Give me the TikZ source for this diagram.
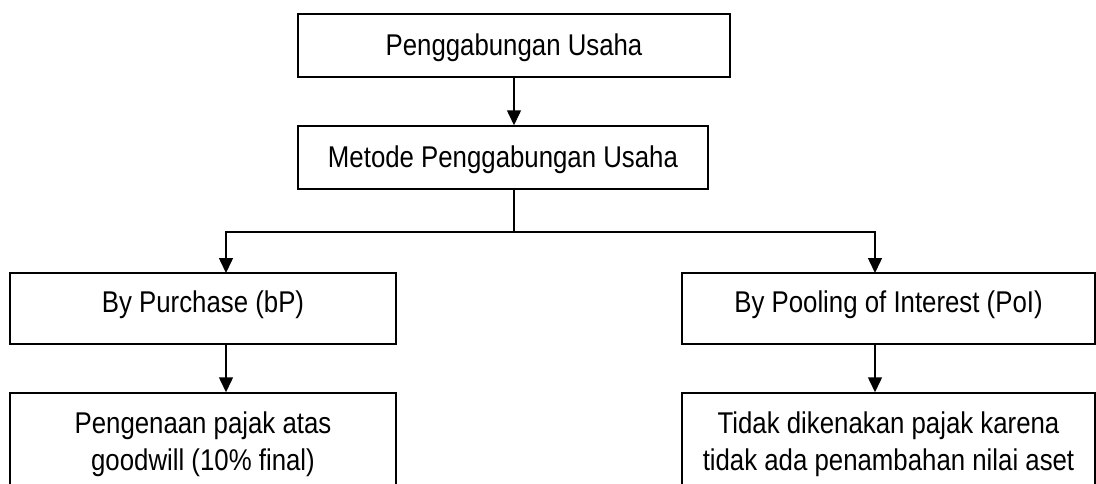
\documentclass[tikz,border=0pt]{standalone}
\usepackage{fontspec}
\setmainfont{Liberation Sans}[FakeStretch=0.86]
\usetikzlibrary{positioning}
\usetikzlibrary{arrows.meta}
\tikzset{
    box/.style = {rectangle, draw=black, line width=1.5pt, inner sep=0pt, align=center, text height=21.5pt},
    boxt/.style = {box, minimum height=63pt, text depth=2.5pt},
    boxm/.style = {box, minimum height=71pt, text depth=14pt},
    boxb/.style = {box, minimum height=119pt, text height=35pt, text depth=0pt},
    edgen/.style = {-{Triangle[width=14pt,length=15pt]}, line width=1.5pt},
    linen/.style = {line width=1.5pt}
}

\begin{document}
\begin{tikzpicture}[x=1pt, y=-1pt, font=\fontsize{30}{37}\selectfont]
  \useasboundingbox (0,0) rectangle (1096,483);
  \clip (0,0) rectangle (1096,483);

  \node[boxt, minimum width=432pt] (usaha) at (514,45.5) {Penggabungan Usaha};
  \node[boxt, minimum width=410pt] (metode) at (503,157.5) {Metode Penggabungan Usaha};
  \node[boxm, minimum width=386pt] (bp) at (203,308.5) {By Purchase (bP)};
  \node[boxm, minimum width=413pt] (poi) at (888.5,308.5) {By Pooling of Interest (PoI)};
  \node[boxb, minimum width=386pt] (pajak) at (203,452.5) {Pengenaan pajak atas\\goodwill (10\% final)};
  \node[boxb, minimum width=413pt] (nilai) at (888.5,452.5) {Tidak dikenakan pajak karena\\tidak ada penambahan nilai aset};

  \coordinate (split) at (514,232);
  \coordinate (bpin) at (226,273);
  \coordinate (poiin) at (875,273);

  \draw[edgen] (usaha) -- (usaha |- metode.north);
  \draw[linen] (split |- metode.south) -- (split);
  \draw[edgen] (split) -| (bpin);
  \draw[edgen] (split) -| (poiin);
  \draw[edgen] (bpin |- bp.south) -- (bpin |- pajak.north);
  \draw[edgen] (poiin |- poi.south) -- (poiin |- nilai.north);

\end{tikzpicture}
\end{document}
